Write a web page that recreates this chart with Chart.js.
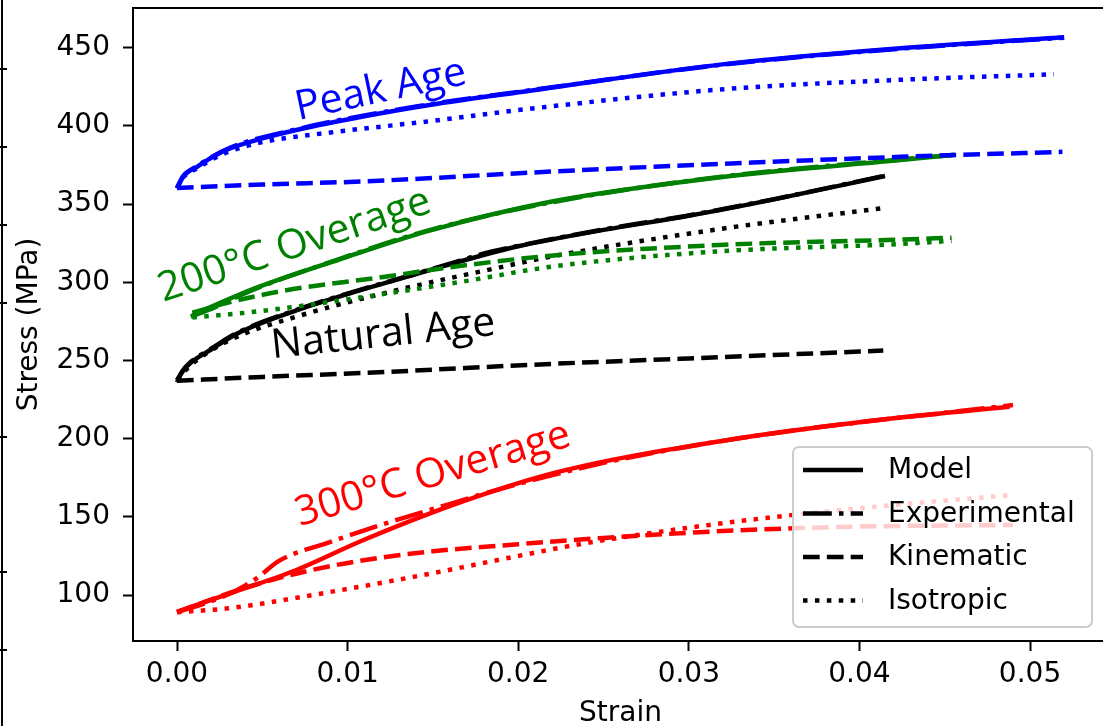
<!DOCTYPE html>
<html>
<head>
<meta charset="utf-8">
<script src="https://cdn.jsdelivr.net/npm/chart.js@4.4.1/dist/chart.umd.min.js"></script>
<style>
  html, body { margin: 0; padding: 0; background: #fff; overflow: hidden; }
  #wrap { position: absolute; left: 0; top: 0; width: 1115px; height: 726px; }
</style>
</head>
<body>
<div id="wrap"><canvas id="chart" width="1115" height="726"></canvas></div>
<script>
// [strain, stress (MPa)] pairs
const peakModel = [[0,360.3],[0.00035,367.8],[0.0012,374],[0.0021,380.3],[0.0031,385.6],[0.005,392],[0.007,397.4],[0.0109,406],[0.0148,413.4],[0.0207,422.5],[0.0321,439.5],[0.0424,449.6],[0.052,456.7]];
const peakExp   = [[0,360],[0.0004,368],[0.0012,374.5],[0.0031,386],[0.007,397.8],[0.0109,406.5],[0.0148,413.8],[0.0207,422.8],[0.0321,439.3],[0.0424,449.4],[0.052,456.4]];
const peakKin   = [[0,360.3],[0.005,362.5],[0.0109,364.5],[0.0219,370.8],[0.0321,375.8],[0.0424,380.2],[0.0519,383.4]];
const peakIso   = [[0,360.3],[0.00035,367],[0.0012,373],[0.0021,378.8],[0.0031,383.8],[0.005,389.6],[0.009,395.8],[0.0148,403],[0.0207,411],[0.0321,423.5],[0.0424,429.5],[0.0514,433]];

const ovg200Model = [[0.0009,279],[0.0043,295],[0.0095,314.5],[0.0148,333],[0.0219,351.5],[0.0321,367.5],[0.0424,378.2],[0.0455,381.4]];
const ovg200Exp   = [[0.0008,278],[0.002,283],[0.0043,294.5],[0.0095,314.8],[0.0148,333.4],[0.0219,351],[0.0321,367.8],[0.0424,378.5],[0.0456,381.6]];
const ovg200Kin   = [[0.0009,280.5],[0.003,287],[0.0062,294.5],[0.0125,304],[0.0156,309],[0.0219,317],[0.0321,324],[0.0424,327.3],[0.0454,328.5]];
const ovg200Iso   = [[0.0009,277.5],[0.004,280.5],[0.007,284.5],[0.0121,292.5],[0.0165,300],[0.0223,310.5],[0.0321,320],[0.0424,324.5],[0.0454,326.5]];

const natModel = [[0,237.5],[0.0004,244],[0.0008,248.5],[0.002,257],[0.0035,267],[0.007,282],[0.01,292.5],[0.013,302],[0.0165,313],[0.02,323],[0.025,333.5],[0.03,342.5],[0.035,353],[0.0415,368]];
const natExp   = [[0,236],[0.0003,243],[0.0008,249],[0.002,257.5],[0.0035,267.5],[0.007,282.3],[0.01,292.8],[0.013,302.3],[0.0165,313.5],[0.018,318.5],[0.02,323.3],[0.025,333.8],[0.03,342.8],[0.035,353.2],[0.0415,368.2]];
const natKin   = [[0,237],[0.005,239.5],[0.0109,242],[0.0219,247.8],[0.03,251.3],[0.0414,256.3]];
const natIso   = [[0,237.5],[0.0008,247],[0.0031,263],[0.007,278],[0.0129,295],[0.0187,309],[0.0219,316.4],[0.0321,334.5],[0.0413,347.3]];

const ovg300Model = [[0,89.3],[0.0031,101],[0.007,116],[0.0109,135],[0.0168,160],[0.0224,178.9],[0.0322,199],[0.042,213],[0.0488,220.4]];
const ovg300Exp   = [[0,89],[0.002,96],[0.0035,103],[0.0047,111],[0.006,122],[0.009,134],[0.012,145],[0.015,155],[0.02,171],[0.025,184.5],[0.03,195],[0.035,203.5],[0.04,210.5],[0.045,216.5],[0.049,221.5]];
const ovg300Kin   = [[0,89],[0.003,101],[0.006,111],[0.009,118.5],[0.012,124],[0.015,128],[0.02,132.5],[0.025,136.5],[0.03,139.8],[0.035,142.3],[0.04,143.8],[0.049,144.8]];
const ovg300Iso   = [[0,89],[0.003,91.5],[0.009,102],[0.015,114],[0.02,125],[0.0236,132.5],[0.0293,142],[0.0351,150],[0.0425,158],[0.049,164]];

const xTicks = [0, 0.01, 0.02, 0.03, 0.04, 0.05];
const yTicks = [100, 150, 200, 250, 300, 350, 400, 450];
const legendLabels = ['Model', 'Experimental', 'Kinematic', 'Isotropic'];
const curveLabels = ['Peak Age', '200°C Overage', 'Natural Age', '300°C Overage'];

const LW = 4.5;
const styles = {
    model: [],
    exp: [6.4 * LW, 1.6 * LW, 1 * LW, 1.6 * LW],
    kin: [3.7 * LW, 1.6 * LW],
    iso: [1 * LW, 1.65 * LW]
};
const legendDash = [styles.model, styles.exp, styles.kin, styles.iso];

function line(pts, color, dash) {
    return {
        data: pts.map(p => ({ x: p[0], y: p[1] })),
        borderColor: color,
        borderWidth: LW,
        borderDash: dash,
        borderCapStyle: 'butt',
        pointRadius: 0,
        fill: false,
        cubicInterpolationMode: 'monotone'
    };
}

const datasets = [
    line(peakModel, '#0000ff', styles.model),
    line(peakExp, '#0000ff', styles.exp),
    line(peakKin, '#0000ff', styles.kin),
    line(peakIso, '#0000ff', styles.iso),
    line(ovg200Model, '#008000', styles.model),
    line(ovg200Exp, '#008000', styles.exp),
    line(ovg200Kin, '#008000', styles.kin),
    line(ovg200Iso, '#008000', styles.iso),
    line(natModel, '#000000', styles.model),
    line(natExp, '#000000', styles.exp),
    line(natKin, '#000000', styles.kin),
    line(natIso, '#000000', styles.iso),
    line(ovg300Model, '#ff0000', styles.model),
    line(ovg300Exp, '#ff0000', styles.exp),
    line(ovg300Kin, '#ff0000', styles.kin),
    line(ovg300Iso, '#ff0000', styles.iso)
];

// rotated curve names, anchored at left baseline in data units
const curveText = [
    { x: 0.0071, y: 403.8, angle: 12, color: '#0000ff' },
    { x: -0.0008, y: 287.4, angle: 18.5, color: '#008000' },
    { x: 0.0056, y: 251.4, angle: 6, color: '#000000' },
    { x: 0.0072, y: 144, angle: 16.5, color: '#ff0000' }
];

const extras = {
    id: 'extras',
    afterDatasetsDraw(chart) {
        const ctx = chart.ctx;
        const a = chart.chartArea;
        const xs = chart.scales.x, ys = chart.scales.y;
        ctx.save();

        // curve names
        ctx.font = '41px "Open Sans"';
        ctx.textAlign = 'left';
        ctx.textBaseline = 'alphabetic';
        curveText.forEach((t, i) => {
            ctx.save();
            ctx.translate(xs.getPixelForValue(t.x), ys.getPixelForValue(t.y));
            ctx.rotate(-t.angle * Math.PI / 180);
            ctx.fillStyle = t.color;
            ctx.fillText(curveLabels[i], 0, 0);
            ctx.restore();
        });

        // top and right spines
        ctx.strokeStyle = '#000';
        ctx.lineWidth = 2;
        ctx.beginPath();
        ctx.moveTo(a.left, a.top);
        ctx.lineTo(a.right, a.top);
        ctx.lineTo(a.right, a.bottom);
        ctx.stroke();

        // legend, lower right
        const w = 299, h = 180;
        const lx = a.right - 16 - w, ly = a.bottom - 14 - h;
        ctx.beginPath();
        ctx.roundRect(lx, ly, w, h, 6);
        ctx.fillStyle = 'rgba(255,255,255,0.8)';
        ctx.fill();
        ctx.strokeStyle = '#cccccc';
        ctx.lineWidth = 2;
        ctx.stroke();
        ctx.font = '28px "DejaVu Sans"';
        ctx.textBaseline = 'middle';
        legendLabels.forEach((lab, i) => {
            const y = ly + 23 + i * 43.5;
            ctx.beginPath();
            ctx.setLineDash(legendDash[i]);
            ctx.lineCap = 'butt';
            ctx.strokeStyle = '#000';
            ctx.lineWidth = LW;
            ctx.moveTo(lx + 10, y);
            ctx.lineTo(lx + 70, y);
            ctx.stroke();
            ctx.setLineDash([]);
            ctx.fillStyle = '#000';
            ctx.fillText(lab, lx + 95, y + 1);
        });

        // edge of the neighbouring panel on the far left
        ctx.strokeStyle = '#000';
        ctx.lineWidth = 2;
        ctx.beginPath();
        ctx.moveTo(2, 0);
        ctx.lineTo(2, 726);
        [69, 147, 225, 303, 437, 572, 650].forEach(y => {
            ctx.moveTo(0, y);
            ctx.lineTo(7, y);
        });
        ctx.stroke();
        ctx.restore();
    }
};

new Chart(document.getElementById('chart'), {
    type: 'line',
    data: { datasets: datasets },
    options: {
        responsive: false,
        animation: false,
        layout: { padding: { left: 0, top: 8, right: 7, bottom: 0 } },
        plugins: { legend: { display: false }, tooltip: { enabled: false } },
        scales: {
            x: {
                type: 'linear',
                min: -0.00258,
                max: 0.05457,
                afterBuildTicks: s => { s.ticks = xTicks.map(v => ({ value: v })); },
                afterFit: s => { s.height = 85; s.paddingLeft = 0; s.paddingRight = 0; },
                ticks: {
                    callback: v => v.toFixed(2),
                    font: { family: 'DejaVu Sans', size: 28 },
                    color: '#000',
                    padding: 7,
                    maxRotation: 0,
                    autoSkip: false
                },
                grid: { drawOnChartArea: false, drawTicks: true, tickLength: 10, tickWidth: 2, tickColor: '#000' },
                border: { display: true, color: '#000', width: 2 },
                title: { display: true, text: 'Strain', font: { family: 'DejaVu Sans', size: 28, lineHeight: 0.85 }, color: '#000', padding: { top: 0, bottom: 0 } }
            },
            y: {
                type: 'linear',
                min: 70.6,
                max: 475.4,
                afterBuildTicks: s => { s.ticks = yTicks.map(v => ({ value: v })); },
                afterFit: s => { s.width = 133; s.paddingTop = 0; s.paddingBottom = 0; },
                ticks: {
                    font: { family: 'DejaVu Sans', size: 28 },
                    color: '#000',
                    padding: 13,
                    autoSkip: false
                },
                grid: { drawOnChartArea: false, drawTicks: true, tickLength: 10, tickWidth: 2, tickColor: '#000' },
                border: { display: true, color: '#000', width: 2 },
                title: { display: true, text: 'Stress (MPa)', font: { family: 'DejaVu Sans', size: 28 }, color: '#000', padding: { top: 13, bottom: 0 } }
            }
        }
    },
    plugins: [extras]
});
</script>
</body>
</html>
